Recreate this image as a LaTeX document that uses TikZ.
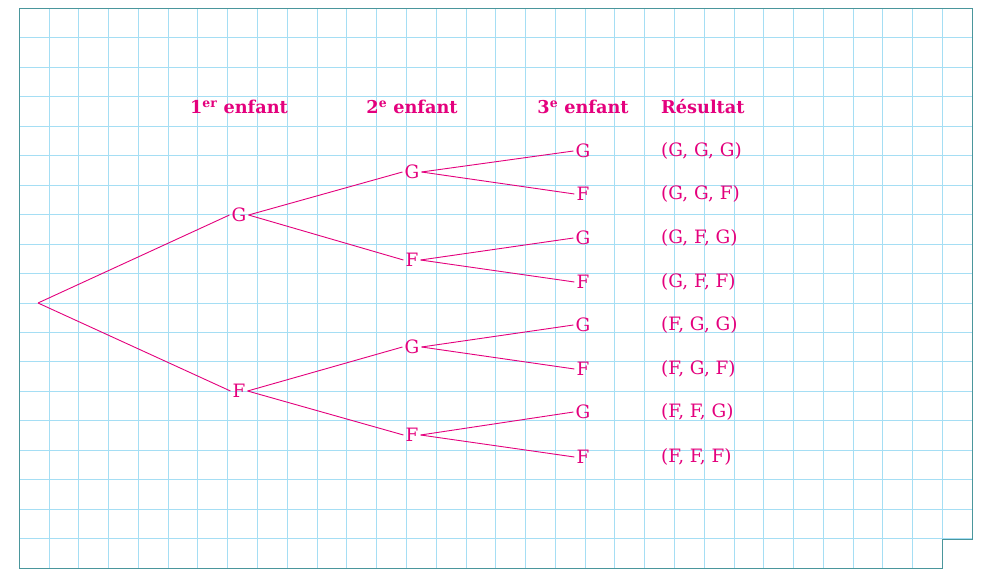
\documentclass[tikz,border=0pt]{standalone}
\usepackage{fontspec}
\setmainfont{DejaVu Serif}
\definecolor{pk}{RGB}{228,0,125}
\definecolor{gridc}{RGB}{165,222,244}
\definecolor{bord}{RGB}{74,150,156}
\begin{document}
\begin{tikzpicture}[x=1pt,y=-1pt,
  lbl/.style={text=pk,font=\fontsize{18.4}{18.4}\selectfont,inner sep=2pt},
  res/.style={text=pk,font=\fontsize{18.4}{18.4}\selectfont,inner sep=0pt,anchor=west},
  hdr/.style={text=pk,font=\fontsize{17.7}{17.7}\selectfont\bfseries,inner sep=0pt},
  br/.style={draw=pk,line width=0.9pt}]
\useasboundingbox (0,0) rectangle (990,585);
\fill[white] (0,0) rectangle (990,585);
% grid
\begin{scope}
\clip (19.3,8.3) -- (972.3,8.3) -- (972.3,539.3) -- (942.7,539.3) -- (942.7,568.3) -- (19.3,568.3) -- cycle;
\foreach \i in {1,...,31} \draw[gridc,line width=1pt] ({19.3+\i*29.78},8.3) -- ({19.3+\i*29.78},568.3);
\foreach \j in {1,...,18} \draw[gridc,line width=1pt] (19.3,{8.3+\j*29.47}) -- (972.3,{8.3+\j*29.47});
\end{scope}
\draw[bord,line width=1pt] (19.3,8.3) -- (972.3,8.3) -- (972.3,539.3) -- (942.7,539.3) -- (942.7,568.3) -- (19.3,568.3) -- cycle;
% headers
\node[hdr] (h1) at (239,107) {1\textsuperscript{er} enfant};
\node[hdr] (h2) at (412,107) {2\textsuperscript{e} enfant};
\node[hdr] (h3) at (583,107) {3\textsuperscript{e} enfant};
\node[hdr,anchor=west] (h4) at (661,107) {Résultat};
% tree
\coordinate (r) at (38,303);
\node[lbl] (a1) at (239,215) {G};
\node[lbl] (a2) at (239,391) {F};
\node[lbl] (b1) at (412,172) {G};
\node[lbl] (b2) at (412,260) {F};
\node[lbl] (b3) at (412,347) {G};
\node[lbl] (b4) at (412,435) {F};
\node[lbl] (c1) at (583,151) {G};
\node[lbl] (c2) at (583,194) {F};
\node[lbl] (c3) at (583,238) {G};
\node[lbl] (c4) at (583,282) {F};
\node[lbl] (c5) at (583,325) {G};
\node[lbl] (c6) at (583,369) {F};
\node[lbl] (c7) at (583,412) {G};
\node[lbl] (c8) at (583,457) {F};
\draw[br] (r) -- (a1.west); \draw[br] (r) -- (a2.west);
\draw[br] (a1.east) -- (b1.west); \draw[br] (a1.east) -- (b2.west);
\draw[br] (a2.east) -- (b3.west); \draw[br] (a2.east) -- (b4.west);
\draw[br] (b1.east) -- (c1.west); \draw[br] (b1.east) -- (c2.west);
\draw[br] (b2.east) -- (c3.west); \draw[br] (b2.east) -- (c4.west);
\draw[br] (b3.east) -- (c5.west); \draw[br] (b3.east) -- (c6.west);
\draw[br] (b4.east) -- (c7.west); \draw[br] (b4.east) -- (c8.west);
% results
\node[res] (d1) at (661,151) {(G, G, G)};
\node[res] (d2) at (661,194) {(G, G, F)};
\node[res] (d3) at (661,238) {(G, F, G)};
\node[res] (d4) at (661,282) {(G, F, F)};
\node[res] (d5) at (661,325) {(F, G, G)};
\node[res] (d6) at (661,369) {(F, G, F)};
\node[res] (d7) at (661,412) {(F, F, G)};
\node[res] (d8) at (661,457) {(F, F, F)};
\end{tikzpicture}
\end{document}
